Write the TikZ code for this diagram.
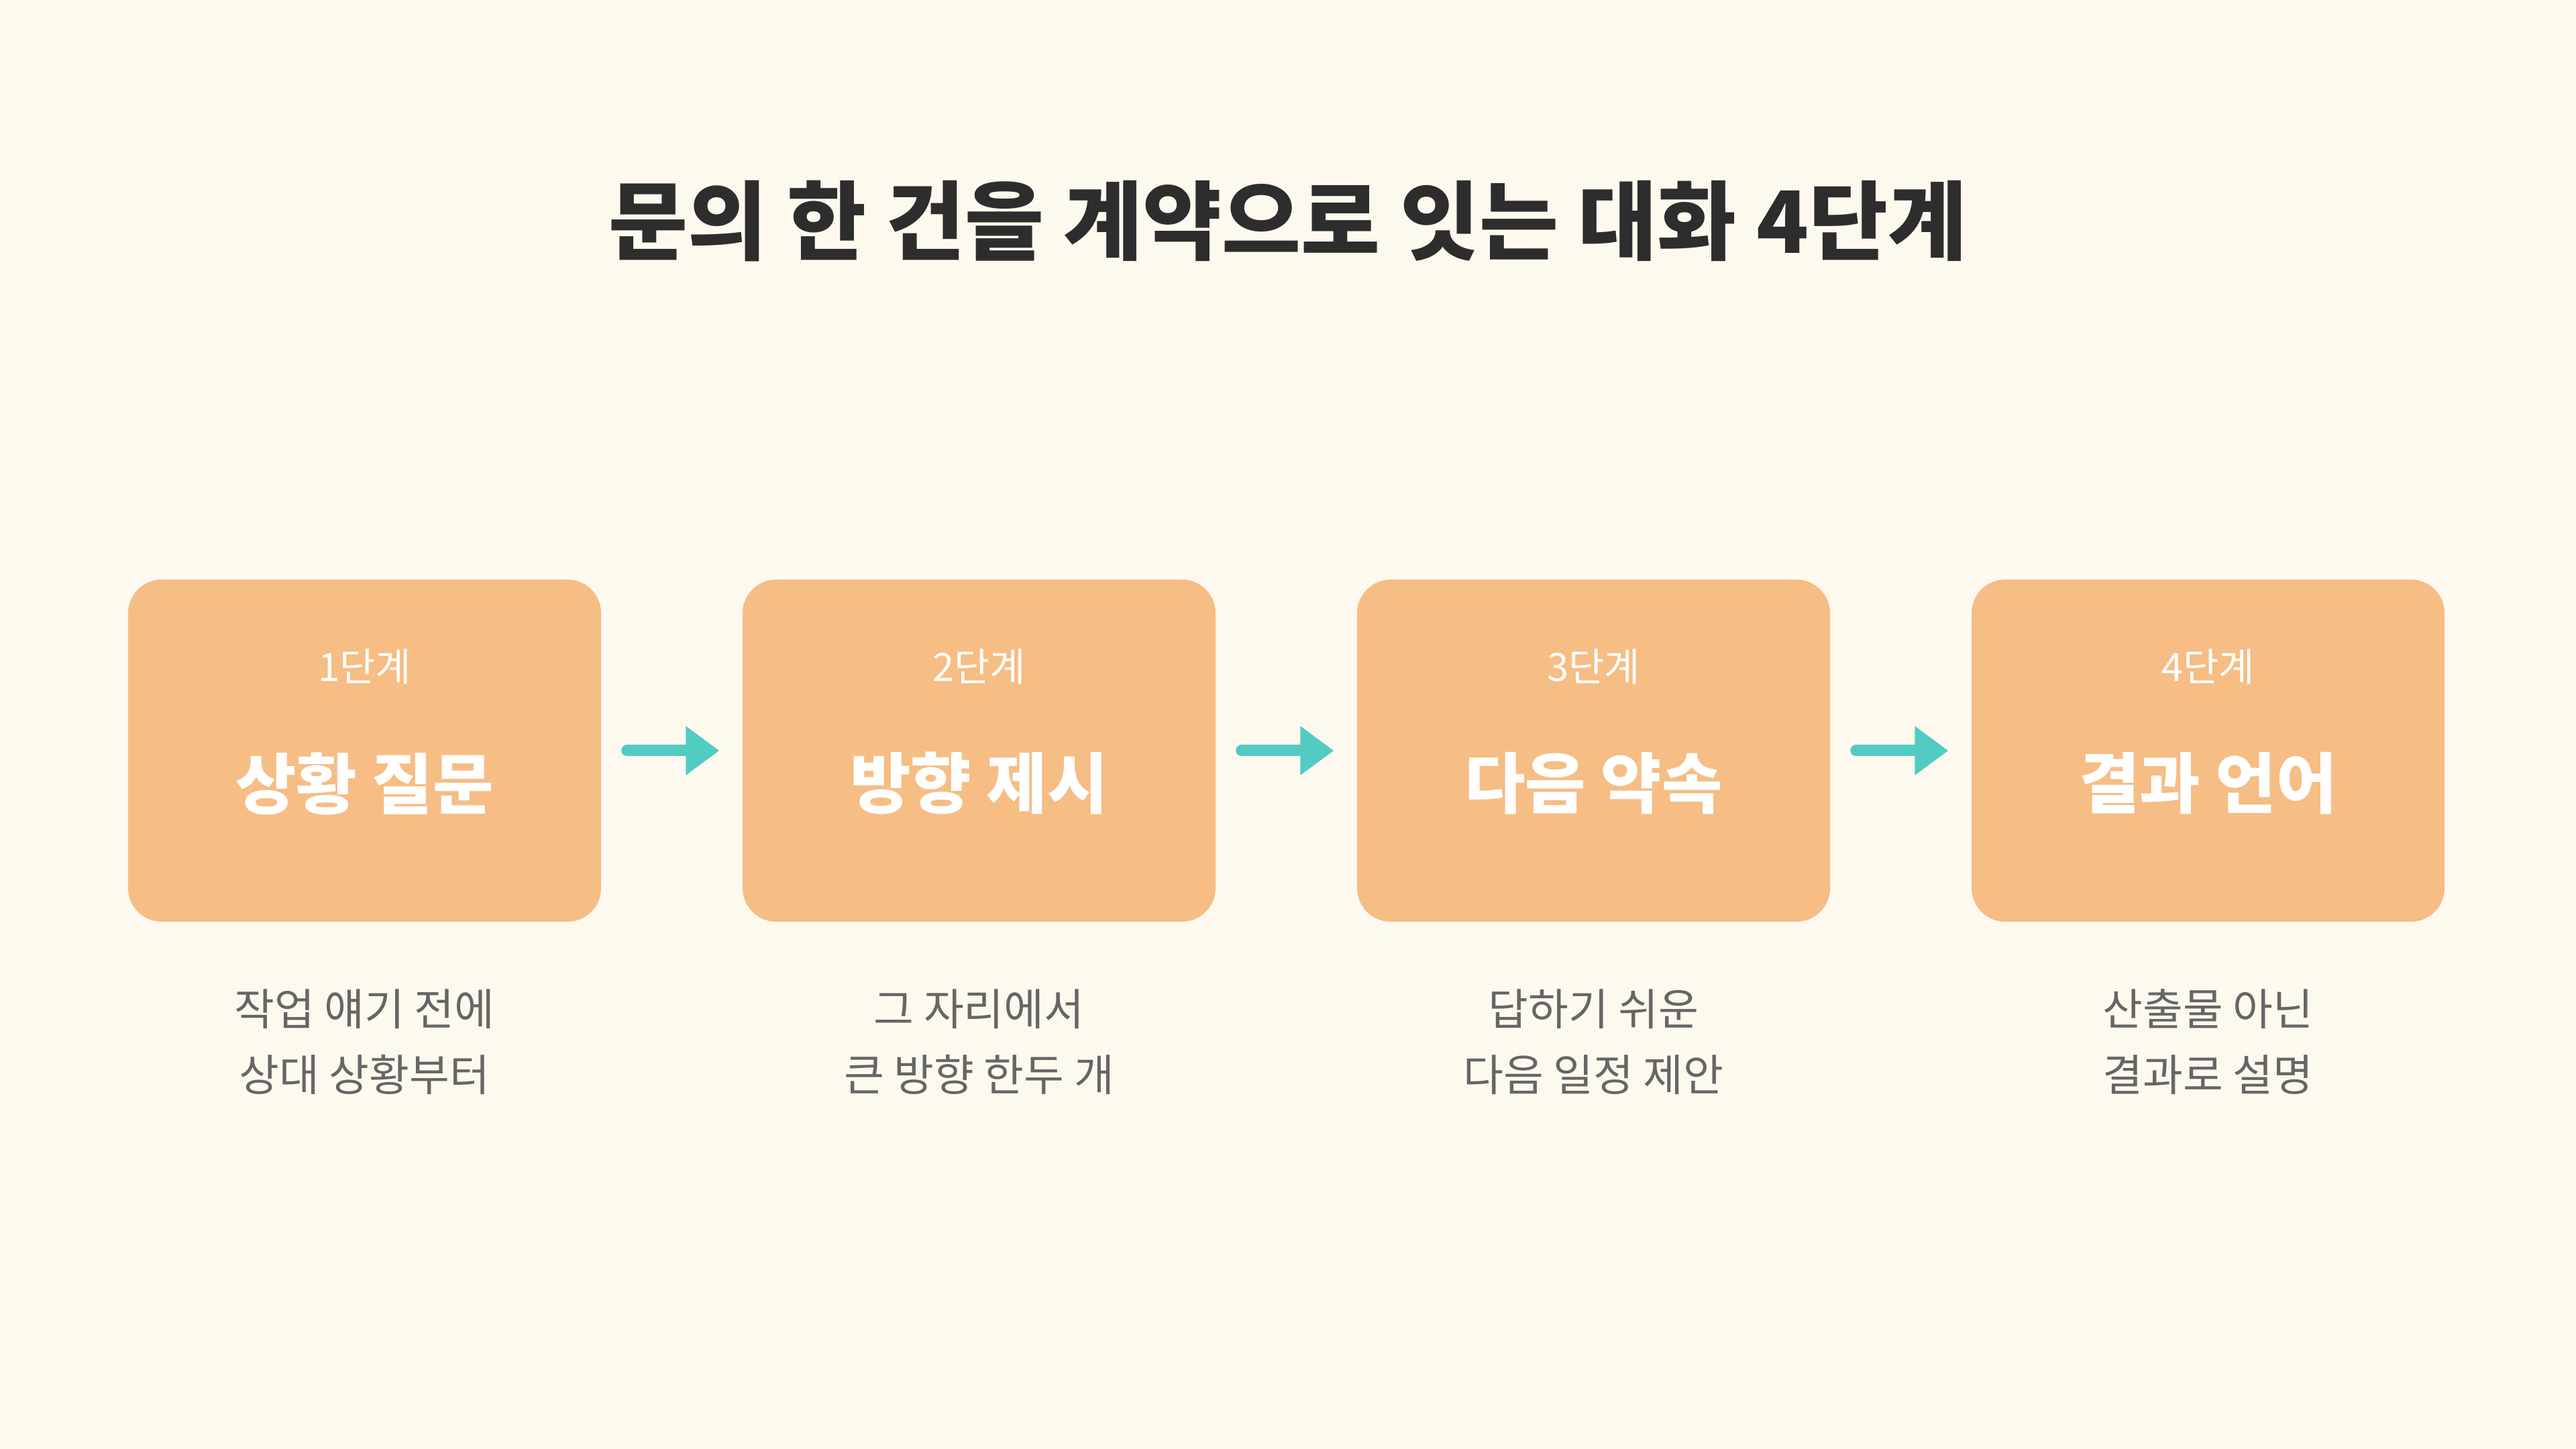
\documentclass[tikz,border=0pt]{standalone}
\usepackage{fontspec}
\setmainfont{Noto Sans CJK KR}
\usetikzlibrary{arrows.meta,positioning}
\definecolor{bgcream}{HTML}{FEF9EF}
\definecolor{boxorange}{HTML}{F6BD85}
\definecolor{arrowteal}{HTML}{52CBC3}
\definecolor{titlegray}{HTML}{2D2D2D}
\definecolor{descgray}{HTML}{666666}
\tikzset{
  stage/.style={fill=boxorange, rounded corners=0.5cm, minimum width=7.05cm, minimum height=5.1cm, inner sep=0pt},
  steplabel/.style={text=white, font=\fontsize{16.5}{20}\selectfont},
  mainlabel/.style={text=white, font=\fontsize{28}{34}\selectfont\bfseries},
  desc/.style={text=descgray, align=center, font=\fontsize{18.5}{28}\selectfont},
  flow/.style={-{Triangle[length=0.5cm,width=0.7cm]}, line width=0.17cm, line cap=round, draw=arrowteal, shorten <=0.38cm, shorten >=0.34cm}
}
\begin{document}
\begin{tikzpicture}
    \useasboundingbox[fill=bgcream] (0,0) rectangle (38.4,21.6);
    \node[text=titlegray, font=\fontsize{36.5}{44}\selectfont\bfseries] (title) at (19.2,18.3) {문의 한 건을 계약으로 잇는 대화 4단계};
    \foreach \i/\name/\sub/\lineA/\lineB in {
        1/상황 질문/1단계/작업 얘기 전에/상대 상황부터,
        2/방향 제시/2단계/그 자리에서/큰 방향 한두 개,
        3/다음 약속/3단계/답하기 쉬운/다음 일정 제안,
        4/결과 언어/4단계/산출물 아닌/결과로 설명} {
        \node[stage] (s\i) at ({5.435+(\i-1)*9.16},10.41) {};
        \node[steplabel] (t\i) at ({5.435+(\i-1)*9.16},11.66) {\sub};
        \node[mainlabel] (m\i) at ({5.435+(\i-1)*9.16},9.92) {\name};
        \node[desc] (d\i) at ({5.435+(\i-1)*9.16},6.07) {\lineA\\\lineB};
    }
    \foreach \i/\j in {1/2,2/3,3/4}
        \draw[flow] (s\i.east) -- (s\j.west);
\end{tikzpicture}
\end{document}
